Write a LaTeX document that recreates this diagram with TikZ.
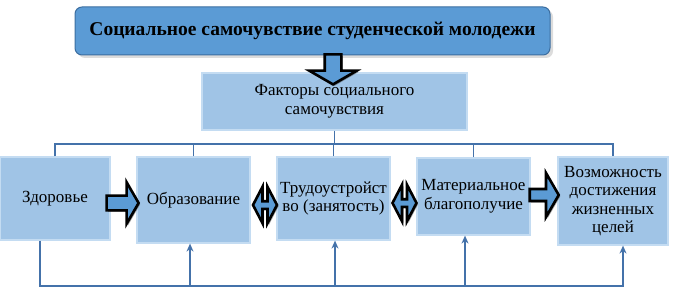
\documentclass[tikz,border=0pt]{standalone}
\usepackage{fontspec}
\setmainfont{Liberation Serif}
\usetikzlibrary{shapes.arrows,shadows,arrows.meta}
\definecolor{boxfill}{RGB}{160,196,230}
\definecolor{boxedge}{RGB}{196,220,242}
\definecolor{topfill}{RGB}{91,155,213}
\definecolor{topedge}{RGB}{60,110,160}
\definecolor{linec}{RGB}{68,114,170}
\definecolor{arrfill}{RGB}{91,155,213}
\begin{document}
\begin{tikzpicture}[x=1pt,y=-1pt,
  box/.style={draw=boxedge, line width=1.2pt, fill=boxfill, inner sep=0pt, align=center,
    font=\fontsize{17}{18.5}\selectfont},
  topbox/.style={draw=topedge, line width=1pt, fill=topfill, rounded corners=7pt, inner sep=2pt,
    drop shadow={shadow xshift=3pt, shadow yshift=-3pt, fill=gray!55},
    font=\fontsize{19.5}{22}\selectfont\bfseries},
  conn/.style={draw=linec, line width=1.4pt},
  tip/.style={-{Stealth[length=8pt,width=7pt]}},
  blockarr/.style={single arrow, draw=black, line width=2.6pt, fill=arrfill, inner xsep=0pt,
    text width=0pt, single arrow tip angle=120,
    drop shadow={shadow xshift=1.5pt, shadow yshift=-1.5pt, fill=black!70}},
  dblarr/.style={double arrow, draw=black, line width=2.6pt, fill=arrfill, inner xsep=0pt,
    text width=0pt, double arrow tip angle=125,
    drop shadow={shadow xshift=1.5pt, shadow yshift=-1.5pt, fill=black!70}}
]
\useasboundingbox (0,0) rectangle (675,302);

% title
\node[topbox, minimum width=475pt, minimum height=48pt] (t) at (312.5,31)
  {Социальное самочувствие студенческой молодежи};

% factors box
\node[box, minimum width=265pt, minimum height=57pt] (f) at (334.5,101.5)
  {Факторы социального\\самочувствия};

% down block arrow
\node[blockarr, rotate=-90, minimum height=30pt, inner ysep=7pt,
  single arrow head extend=15.5pt] (da) at (333,67) {};

% factor boxes
\node[box, minimum width=110pt, minimum height=83pt] (b1) at (55,198.5) {Здоровье};
\node[box, minimum width=113pt, minimum height=86pt] (b2) at (193.5,200) {Образование};
\node[box, minimum width=113pt, minimum height=83pt] (b3) at (333.5,198.5) {Трудоустройст\\во (занятость)};
\node[box, minimum width=113pt, minimum height=77pt] (b4) at (473.5,196.5) {Материальное\\благополучие};
\node[box, minimum width=110pt, minimum height=88pt] (b5) at (613,201) {Возможность\\достижения\\жизненных\\целей};

% block arrows between boxes
\node[blockarr, minimum height=32pt, inner ysep=6pt, single arrow head extend=13.5pt] (a12) at (120.5,203) {};
\node[dblarr, minimum height=24pt, inner ysep=2.5pt, double arrow head extend=14.5pt] (a23) at (265,205) {};
\node[dblarr, minimum height=24pt, inner ysep=2.5pt, double arrow head extend=14.5pt] (a34) at (404.5,203) {};
\node[blockarr, minimum height=29pt, inner ysep=4.7pt, single arrow head extend=16pt] (a45) at (542.5,195) {};

% tree connectors
\coordinate (hub) at (334.5,144);
\draw[conn] (f.south) -- (f.south |- hub);
\draw[conn] (b1.north) -- (b1.north |- hub) -- (b5.north |- hub) -- (b5.north);
\draw[conn] (b2.north) -- (b2.north |- hub);
\draw[conn] (b3.north) -- (b3.north |- hub);
\draw[conn] (b4.north) -- (b4.north |- hub);

% bottom feedback connectors
\coordinate (bl) at (40,286);
\coordinate (br) at (623,286);
\coordinate (p2) at (190,286);
\coordinate (p3) at (335,286);
\coordinate (p4) at (465,286);
\draw[conn, tip] (b1.south -| bl) -- (bl) -- (br) -- (br |- b5.south);
\draw[conn, tip] (p2) -- (p2 |- b2.south);
\draw[conn, tip] (p3) -- (p3 |- b3.south);
\draw[conn, tip] (p4) -- (p4 |- b4.south);
\end{tikzpicture}
\end{document}
